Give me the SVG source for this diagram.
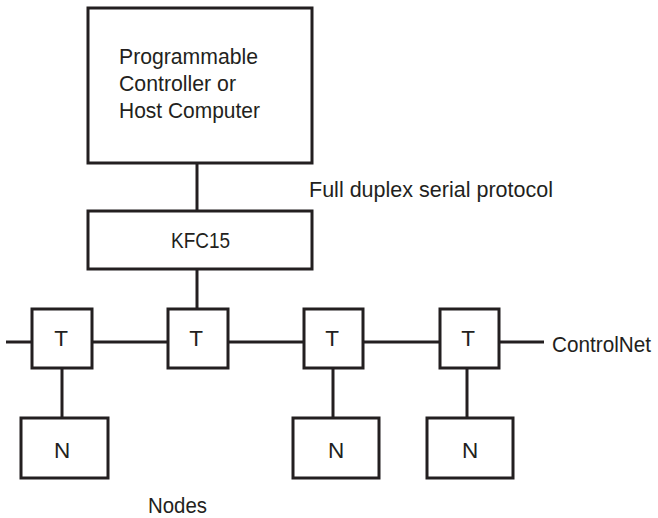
<svg xmlns="http://www.w3.org/2000/svg" width="658" height="518" viewBox="0 0 658 518">
<style>
.box{fill:#fff;stroke:#231f20;stroke-width:3}
.ln{stroke:#231f20;stroke-width:3;fill:none}
text{font-family:"Liberation Sans",Arial,sans-serif;font-size:22.5px;fill:#231f20}
.c{text-anchor:middle}
</style>
<rect width="658" height="518" fill="#fff"/>
<g id="connectors">
<line class="ln" x1="197" y1="163" x2="197" y2="211"/>
<line class="ln" x1="197" y1="269" x2="197" y2="309"/>
<line class="ln" x1="6" y1="342" x2="32" y2="342"/>
<line class="ln" x1="89" y1="342" x2="168" y2="342"/>
<line class="ln" x1="225" y1="342" x2="304" y2="342"/>
<line class="ln" x1="363" y1="342" x2="443" y2="342"/>
<line class="ln" x1="497" y1="342" x2="544" y2="342"/>
<line class="ln" x1="62" y1="368" x2="62" y2="418"/>
<line class="ln" x1="333" y1="368" x2="333" y2="418"/>
<line class="ln" x1="467" y1="368" x2="467" y2="418"/>
</g>
<g id="host">
<rect class="box" x="88" y="8" width="224" height="155"/>
<text x="119" y="64" textLength="139" lengthAdjust="spacingAndGlyphs">Programmable</text>
<text x="119" y="91" textLength="117" lengthAdjust="spacingAndGlyphs">Controller or</text>
<text x="119" y="118" textLength="141" lengthAdjust="spacingAndGlyphs">Host Computer</text>
</g>
<g id="protocol-label"><text x="309" y="197" textLength="244" lengthAdjust="spacingAndGlyphs">Full duplex serial protocol</text></g>
<g id="kfc15">
<rect class="box" x="88" y="211" width="224" height="58"/>
<text x="171" y="248" textLength="59" lengthAdjust="spacingAndGlyphs">KFC15</text>
</g>
<g id="t1"><rect class="box" x="32" y="309" width="60" height="59"/><text class="c" x="61" y="346">T</text></g>
<g id="t2"><rect class="box" x="168" y="309" width="60" height="59"/><text class="c" x="196" y="346">T</text></g>
<g id="t3"><rect class="box" x="304" y="309" width="59" height="59"/><text class="c" x="332" y="346">T</text></g>
<g id="t4"><rect class="box" x="440" y="309" width="59" height="59"/><text class="c" x="468" y="346">T</text></g>
<g id="controlnet-label"><text x="552" y="352" textLength="99" lengthAdjust="spacingAndGlyphs">ControlNet</text></g>
<g id="n1"><rect class="box" x="21" y="418" width="87" height="60"/><text class="c" x="62" y="458">N</text></g>
<g id="n2"><rect class="box" x="293" y="418" width="86" height="60"/><text class="c" x="336" y="458">N</text></g>
<g id="n3"><rect class="box" x="427" y="418" width="86" height="60"/><text class="c" x="470" y="458">N</text></g>
<g id="nodes-label"><text x="148" y="513" textLength="59" lengthAdjust="spacingAndGlyphs">Nodes</text></g>
</svg>
